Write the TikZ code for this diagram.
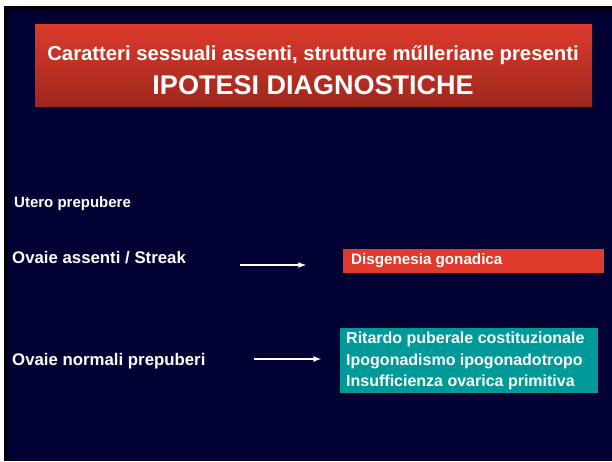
\documentclass[tikz,border=0pt]{standalone}
\usepackage{fontspec}
\setmainfont{Liberation Sans}
\usetikzlibrary{positioning,arrows}
\definecolor{navy}{RGB}{0,0,51}
\definecolor{hdrtop}{RGB}{221,59,43}
\definecolor{hdrbot}{RGB}{158,38,30}
\definecolor{redbox}{RGB}{223,58,43}
\definecolor{tealbox}{RGB}{0,153,153}
\begin{document}
\begin{tikzpicture}[x=1pt,y=-1pt,font=\bfseries,
    lbl/.style={text=white,anchor=west,inner sep=0pt},
    hyp/.style={text=white,anchor=west,inner sep=0pt,align=left},
    arr/.style={->,>=latex,white,line width=1.6pt}]
                      \useasboundingbox (0,0) rectangle (612,461);
                      \fill[white] (0,0) rectangle (612,461);
                      \fill[black] (4,6) rectangle (612,461);
                      \fill[navy] (7,9) rectangle (612,461);

                      \shade[top color=hdrtop,bottom color=hdrbot] (35,24) rectangle (592,106);
                      \node[text=white,font=\bfseries\fontsize{20.3}{24}\selectfont] (tit) at (313,55) {Caratteri sessuali assenti, strutture műlleriane presenti};
                      \node[text=white,font=\bfseries\fontsize{27}{30}\selectfont] (ipo) at (313,85) {IPOTESI DIAGNOSTICHE};

                      \node[lbl,font=\bfseries\fontsize{15}{18}\selectfont] (utero) at (14,204) {Utero prepubere};
                      \node[lbl,font=\bfseries\fontsize{16.8}{20}\selectfont] (ass) at (12,258) {Ovaie assenti / Streak};
                      \node[lbl,font=\bfseries\fontsize{16.8}{20}\selectfont] (norm) at (12,361) {Ovaie normali prepuberi};

                      \fill[redbox] (343,249) rectangle (604,273);
                      \node[lbl,font=\bfseries\fontsize{15.2}{18}\selectfont] (dis) at (351,261) {Disgenesia gonadica};
                      \fill[tealbox] (340,328) rectangle (598,393);
                      \node[hyp,font=\bfseries\fontsize{16}{21.5}\selectfont] (rit) at (346,361) {Ritardo puberale costituzionale\\Ipogonadismo ipogonadotropo\\Insufficienza ovarica primitiva};

                      \coordinate (a1s) at (240,265);
                      \coordinate (a1e) at (306,265);
                      \coordinate (a2s) at (254,359);
                      \coordinate (a2e) at (321,359);
                      \draw[arr] (a1s) -- (a1e);
                      \draw[arr] (a2s) -- (a2e);
                    \end{tikzpicture}
\end{document}
